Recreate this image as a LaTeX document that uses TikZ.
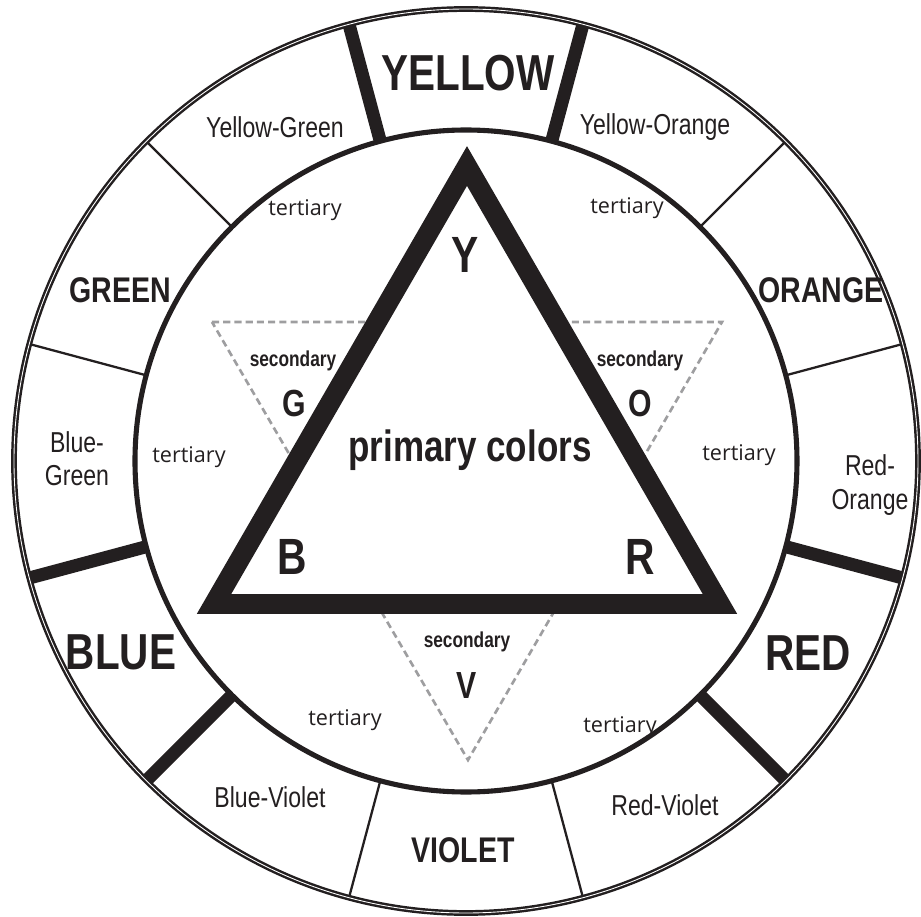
\documentclass[tikz,border=0pt]{standalone}
\usepackage{tikz}
\usepackage{xcolor}
\usepackage{fontspec}
\setmainfont{Liberation Sans}[FakeStretch=0.8]
\newfontfamily\tertfont{Open Sans}

\definecolor{ink}{RGB}{35,31,32}
\definecolor{dashgray}{RGB}{158,158,160}

\tikzset{
	huebig/.style={text=ink, font=\bfseries\fontsize{28.8}{30}\selectfont},
	huemid/.style={text=ink, font=\bfseries\fontsize{20.3}{22}\selectfont},
	hue/.style={text=ink, align=center, font=\fontsize{16.4}{19}\selectfont},
	tertlabel/.style={text=ink, font=\tertfont\fontsize{12.3}{14}\selectfont},
	seclabel/.style={text=ink, font=\bfseries\fontsize{12.3}{14}\selectfont},
	secletter/.style={text=ink, font=\bfseries\fontsize{21.5}{23}\selectfont},
	primletter/.style={text=ink, font=\bfseries\fontsize{29}{31}\selectfont},
	thindiv/.style={draw=ink, line width=1.3pt},
	thickdiv/.style={draw=ink, line width=7.4pt}
}

\begin{document}
\begin{tikzpicture}[x=0.02cm, y=0.02cm]
				\useasboundingbox (-466,-456) rectangle (455,461);
				
				% Draw wheel dividers
				\draw[thindiv] (15:331) -- (15:452);
				\draw[thindiv] (45:331) -- (45:452);
				\draw[thindiv] (135:331) -- (135:452);
				\draw[thindiv] (165:331) -- (165:452);
				\draw[thindiv] (255:331) -- (255:452);
				\draw[thindiv] (285:331) -- (285:452);
				\draw[thickdiv] (75:331) -- (75:452);
				\draw[thickdiv] (105:331) -- (105:452);
				\draw[thickdiv] (195:331) -- (195:452);
				\draw[thickdiv] (225:331) -- (225:452);
				\draw[thickdiv] (315:331) -- (315:452);
				\draw[thickdiv] (345:331) -- (345:452);
				
				% Draw rings
				\draw[ink, line width=1.4pt, double, double distance=0.5pt] (0,0) circle (452);
				\draw[ink, line width=2.9pt] (0,0) circle (331);
				
				% Secondary triangle (dashed)
				\coordinate (gv) at (-254,139);
				\coordinate (ov) at (256,139);
				\coordinate (vv) at (2,-299);
				\draw[dashgray, line width=1.5pt, dash pattern=on 4pt off 2.4pt] (gv) -- (ov) -- (vv) -- cycle;
				
				% Primary triangle
				\coordinate (yv) at (1,295);
				\coordinate (bv) at (-252,-143);
				\coordinate (rv) at (254,-143);
				\draw[ink, fill=white, line width=11.3pt, line join=miter] (yv) -- (bv) -- (rv) -- cycle;
				
				% Wheel labels
				\node[huebig] (yellow) at (2,388) {YELLOW};
				\node[hue] (yelgreen) at (-191,334) {Yellow-Green};
				\node[hue] (yelorange) at (189,334) {Yellow-Orange};
				\node[huemid] (green) at (-346,171) {GREEN};
				\node[huemid] (orange) at (355,171) {ORANGE};
				\node[hue] (bluegreen) at (-389,2) {Blue-\\Green};
				\node[hue] (redorange) at (404,-24) {Red-\\Orange};
				\node[huebig] (blue) at (-345,-191) {BLUE};
				\node[huebig] (red) at (342,-192) {RED};
				\node[hue] (blueviolet) at (-196,-336) {Blue-Violet};
				\node[huemid] (violet) at (-3,-389) {VIOLET};
				\node[hue] (redviolet) at (199,-344) {Red-Violet};
				
				% Tertiary labels
				\node[tertlabel] (tert1) at (-161,251) {tertiary};
				\node[tertlabel] (tert2) at (161,253) {tertiary};
				\node[tertlabel] (tert3) at (-277,4) {tertiary};
				\node[tertlabel] (tert4) at (273,6) {tertiary};
				\node[tertlabel] (tert5) at (-121,-259) {tertiary};
				\node[tertlabel] (tert6) at (154,-266) {tertiary};
				
				% Secondary labels
				\node[seclabel] (secg) at (-173,100) {secondary};
				\node[secletter] (g) at (-172,58) {G};
				\node[seclabel] (seco) at (174,100) {secondary};
				\node[secletter] (o) at (174,58) {O};
				\node[seclabel] (secv) at (1,-181) {secondary};
				\node[secletter] (v) at (1,-225) {V};
				
				% Primary labels
				\node[primletter] (y) at (-1,206) {Y};
				\node[primletter] (b) at (-174,-96) {B};
				\node[primletter] (r) at (174,-96) {R};
				\node[text=ink, font=\bfseries\fontsize{24.9}{26}\selectfont] (primary) at (4,11) {primary colors};
			\end{tikzpicture}
\end{document}
